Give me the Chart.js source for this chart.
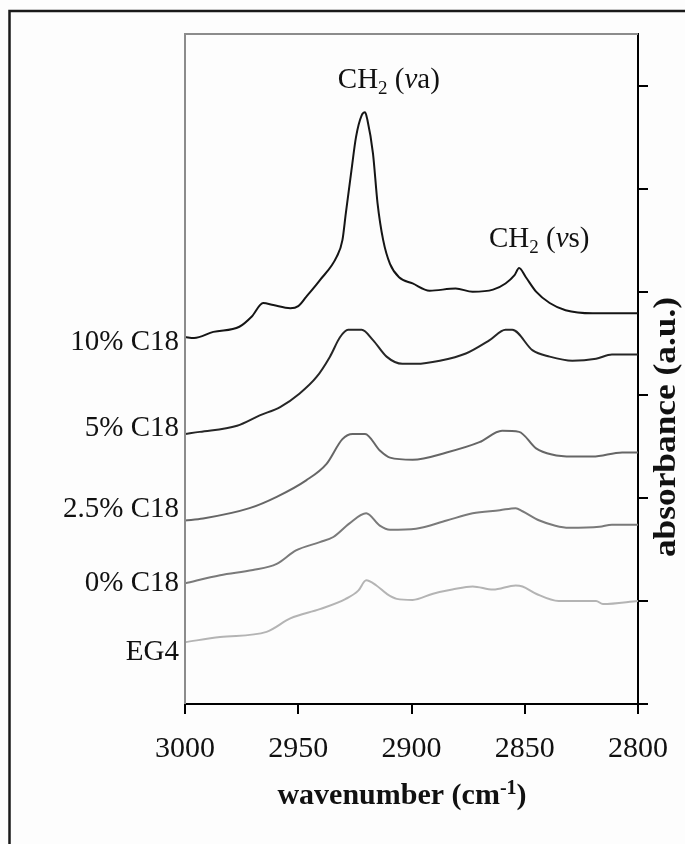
<!DOCTYPE html>
<html>
<head>
<meta charset="utf-8">
<script src="https://cdn.jsdelivr.net/npm/chart.js@4.4.1/dist/chart.umd.min.js"></script>
<style>
  html, body { margin: 0; padding: 0; background: #fdfdfd; }
  canvas { display: block; }
</style>
</head>
<body>
<canvas id="c" width="685" height="844"></canvas>
<script>
// ---- Data (wavenumber in cm^-1, offset absorbance in a.u.) ----
const seriesNames = ['10% C18', '5% C18', '2.5% C18', '0% C18', 'EG4'];

const wn10  = [3000, 2996, 2987.5, 2976, 2970.5, 2965.5, 2961, 2953.5, 2950, 2946.5, 2940.5, 2933, 2930.5, 2929, 2926.5, 2924.5, 2922, 2920.5, 2919.5, 2917, 2915, 2912.5, 2909.5, 2905.5, 2899.5, 2892, 2880.5, 2873, 2864, 2858.5, 2854.5, 2852.5, 2849.5, 2845, 2839, 2832, 2820, 2800];
const abs10 = [3.56, 3.55, 3.61, 3.66, 3.76, 3.89, 3.87, 3.84, 3.86, 3.95, 4.11, 4.34, 4.50, 4.76, 5.18, 5.50, 5.71, 5.74, 5.67, 5.34, 4.86, 4.50, 4.27, 4.14, 4.08, 4.01, 4.03, 4.00, 4.02, 4.08, 4.16, 4.23, 4.14, 4.00, 3.89, 3.82, 3.79, 3.79];

const wn5  = [3000, 2993.5, 2977, 2967, 2958, 2949.5, 2942, 2936, 2931.5, 2928, 2922, 2917, 2911, 2904, 2898, 2887.5, 2876, 2865.5, 2858.5, 2855.5, 2846.5, 2839, 2829, 2818.5, 2811.5, 2800];
const abs5 = [2.62, 2.64, 2.70, 2.80, 2.88, 3.01, 3.17, 3.37, 3.56, 3.63, 3.63, 3.53, 3.37, 3.30, 3.30, 3.33, 3.40, 3.53, 3.63, 3.63, 3.43, 3.37, 3.33, 3.35, 3.39, 3.39];

const wn25  = [3000, 2992, 2971.5, 2959.5, 2946.5, 2937.5, 2930.5, 2926, 2920.5, 2914, 2909.5, 2899.5, 2884.5, 2870, 2860, 2852.5, 2845, 2838, 2829, 2820, 2807, 2800];
const abs25 = [1.78, 1.80, 1.90, 2.01, 2.17, 2.33, 2.57, 2.62, 2.62, 2.46, 2.39, 2.37, 2.44, 2.54, 2.65, 2.64, 2.48, 2.42, 2.40, 2.40, 2.44, 2.44];

const wn0  = [3000, 2984.5, 2970, 2959.5, 2951, 2940.5, 2934.5, 2927.5, 2920, 2914, 2909.5, 2898, 2884.5, 2873, 2861, 2854, 2851, 2843.5, 2836.5, 2830.5, 2817, 2811.5, 2800];
const abs0 = [1.17, 1.25, 1.30, 1.36, 1.49, 1.57, 1.62, 1.75, 1.85, 1.73, 1.69, 1.70, 1.78, 1.85, 1.88, 1.90, 1.87, 1.78, 1.73, 1.71, 1.72, 1.74, 1.74];

const wnEG4  = [3000, 2984.5, 2964, 2953.5, 2940.5, 2929, 2923.5, 2920, 2915.5, 2911, 2906.5, 2899.5, 2890.5, 2882, 2873, 2864, 2854, 2851, 2845, 2835, 2818.5, 2815.5, 2800];
const absEG4 = [0.60, 0.65, 0.70, 0.83, 0.92, 1.02, 1.10, 1.20, 1.15, 1.07, 1.02, 1.01, 1.07, 1.11, 1.14, 1.11, 1.15, 1.14, 1.07, 1.00, 1.00, 0.97, 1.00];

// series label anchors (absorbance value of the label baseline)
const labelAbs = [3.43, 2.60, 1.81, 1.10, 0.43];

// peak annotations
const peakNames = ['a', 's'];
const peakWn = [2910, 2843.6];
const peakAbs = [5.98, 4.43];

// axis ticks
const xTickMin = 2800, xTickMax = 3000, xTickStep = 50;
const yMin = 0, yMax = 6.5, yStep = 1;

// ---- styles ----
const lineColors = ['#151515', '#262626', '#666666', '#7a7a7a', '#b4b4b4'];
const SERIF = '"Liberation Serif", "Times New Roman", serif';

const xs = [wn10, wn5, wn25, wn0, wnEG4];
const ys = [abs10, abs5, abs25, abs0, absEG4];

const datasets = seriesNames.map((name, i) => ({
  label: name,
  data: xs[i].map((x, j) => ({ x: x, y: ys[i][j] })),
  borderColor: lineColors[i],
  borderWidth: 2,
  pointRadius: 0,
  fill: false,
  cubicInterpolationMode: 'monotone'
}));

function drawPeakLabel(ctx, cx, baseY, mode) {
  const big = '29px ' + SERIF, small = '19px ' + SERIF, ital = 'italic 29px ' + SERIF;
  const parts = [
    { t: 'CH', f: big, dy: 0 },
    { t: '2', f: small, dy: 6 },
    { t: ' (', f: big, dy: 0 },
    { t: '\u03BD', f: ital, dy: 0 },
    { t: mode + ')', f: big, dy: 0 }
  ];
  let total = 0;
  parts.forEach(p => { ctx.font = p.f; p.w = ctx.measureText(p.t).width; total += p.w; });
  let x = cx - total / 2;
  ctx.textAlign = 'left';
  ctx.textBaseline = 'alphabetic';
  parts.forEach(p => { ctx.font = p.f; ctx.fillText(p.t, x, baseY + p.dy); x += p.w; });
}

const decor = {
  id: 'decor',
  beforeDraw(chart) {
    const ctx = chart.ctx;
    ctx.save();
    ctx.fillStyle = '#fdfdfd';
    ctx.fillRect(0, 0, chart.width, chart.height);
    // outer frame (left & top visible)
    ctx.strokeStyle = '#1a1a1a';
    ctx.lineWidth = 2.5;
    ctx.beginPath();
    ctx.moveTo(9.5, chart.height);
    ctx.lineTo(9.5, 11);
    ctx.lineTo(chart.width, 11);
    ctx.stroke();
    ctx.restore();
  },
  afterDraw(chart) {
    const ctx = chart.ctx;
    const a = chart.chartArea;
    const xS = chart.scales.x, yS = chart.scales.y;
    ctx.save();
    // gray plot frame (top & left)
    ctx.strokeStyle = '#8c8c8c';
    ctx.lineWidth = 2;
    ctx.beginPath();
    ctx.moveTo(a.left, a.bottom);
    ctx.lineTo(a.left, a.top);
    ctx.lineTo(a.right, a.top);
    ctx.stroke();

    ctx.fillStyle = '#111';
    // series labels
    ctx.font = '29px ' + SERIF;
    ctx.textAlign = 'right';
    ctx.textBaseline = 'alphabetic';
    seriesNames.forEach((n, i) => {
      ctx.fillText(n, a.left - 6, yS.getPixelForValue(labelAbs[i]));
    });

    // peak labels
    peakNames.forEach((m, i) => {
      drawPeakLabel(ctx, xS.getPixelForValue(peakWn[i]), yS.getPixelForValue(peakAbs[i]), m);
    });

    // x title: wavenumber (cm^-1)
    const bold = 'bold 30px ' + SERIF, supF = 'bold 20px ' + SERIF;
    const t1 = 'wavenumber (cm', t2 = '-1', t3 = ')';
    ctx.font = bold; const w1 = ctx.measureText(t1).width; const w3 = ctx.measureText(t3).width;
    ctx.font = supF; const w2 = ctx.measureText(t2).width;
    let x = 402 - (w1 + w2 + w3) / 2;
    const by = 804;
    ctx.textAlign = 'left';
    ctx.font = bold; ctx.fillText(t1, x, by); x += w1;
    ctx.font = supF; ctx.fillText(t2, x, by - 10); x += w2;
    ctx.font = bold; ctx.fillText(t3, x, by);

    // y title (rotated, reading bottom to top, slightly stretched like the original)
    ctx.translate(667, 427);
    ctx.rotate(-Math.PI / 2);
    ctx.scale(1.14, 1);
    ctx.font = 'bold 31px ' + SERIF;
    ctx.textAlign = 'center';
    ctx.textBaseline = 'middle';
    ctx.fillText('absorbance (a.u.)', 0, 0);
    ctx.restore();
  }
};

new Chart(document.getElementById('c'), {
  type: 'line',
  data: { datasets: datasets },
  options: {
    responsive: false,
    devicePixelRatio: 1,
    animation: false,
    layout: { padding: { left: 185, top: 34, right: 0, bottom: 0 } },
    plugins: { legend: { display: false }, tooltip: { enabled: false } },
    scales: {
      x: {
        type: 'linear',
        position: 'bottom',
        reverse: true,
        min: xTickMin,
        max: xTickMax,
        afterFit(s) { s.height = 140; },
        border: { display: true, color: '#000', width: 2 },
        grid: { display: true, drawOnChartArea: false, drawTicks: true, tickLength: 10, color: '#000', lineWidth: 2 },
        ticks: {
          stepSize: xTickStep,
          autoSkip: false,
          maxRotation: 0,
          padding: 17,
          color: '#111',
          font: { family: SERIF, size: 30 },
          callback: v => String(v)
        }
      },
      y: {
        type: 'linear',
        position: 'right',
        min: yMin,
        max: yMax,
        afterFit(s) { s.width = 46; },
        border: { display: true, color: '#000', width: 2 },
        grid: { display: true, drawOnChartArea: false, drawTicks: true, tickLength: 10, color: '#000', lineWidth: 2 },
        ticks: { stepSize: yStep, display: false, includeBounds: false }
      }
    }
  },
  plugins: [decor]
});
</script>
</body>
</html>
